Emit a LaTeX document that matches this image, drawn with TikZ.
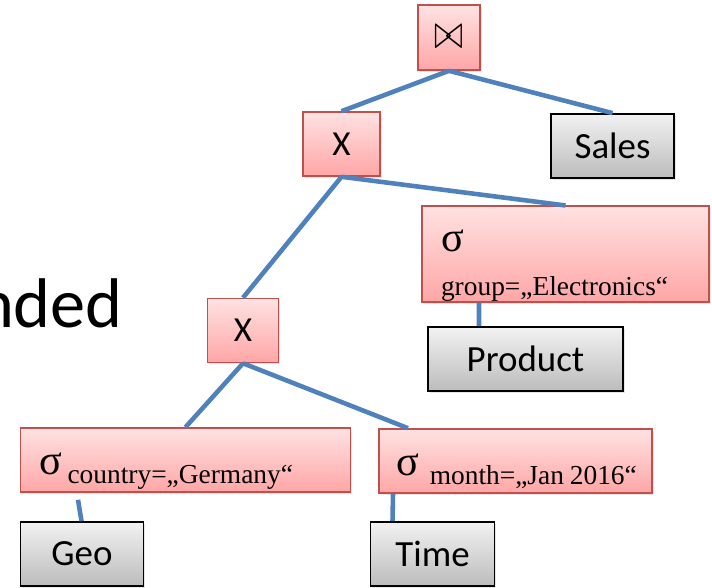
\documentclass[tikz,border=0pt]{standalone}
\usepackage{fontspec}
\setmainfont{Carlito}
\newfontfamily\selfont{Liberation Serif}
\usetikzlibrary{positioning, shadows}

\definecolor{opborder}{RGB}{192,80,77}
\definecolor{optop}{RGB}{255,226,226}
\definecolor{opbottom}{RGB}{255,166,166}
\definecolor{reltop}{RGB}{242,242,242}
\definecolor{relbottom}{RGB}{188,188,188}
\definecolor{linkblue}{RGB}{79,129,189}

\newcommand{\selsigma}{{\fontsize{24}{24}\selectfont σ}}
\newcommand{\selcond}[1]{{\fontsize{15.6}{18}\selectfont #1}}

\begin{document}
\begin{tikzpicture}[node distance = 2cm, on grid,
		op/.style   = {draw=opborder, line width=0.9pt, top color=optop, bottom color=opbottom,
		               drop shadow={opacity=0.2, shadow xshift=1pt, shadow yshift=-1pt},
		               minimum height=1.28cm, font=\fontsize{20}{22}\selectfont},
		rel/.style  = {draw=black, line width=1pt, top color=reltop, bottom color=relbottom,
		               drop shadow={opacity=0.2, shadow xshift=1pt, shadow yshift=-1pt},
		               minimum height=1.28cm, font=\fontsize{21}{24}\selectfont},
		sel/.style  = {op, font=\selfont, align=left, inner xsep=0.38cm, inner ysep=0pt,
		               text height=0.93cm, text depth=0.35cm},
		link/.style = {draw=linkblue, line width=2.6pt}]
				\useasboundingbox (0,0) rectangle (14.24,-11.76);
				\clip (0,0) rectangle (14.24,-11.76);
				
				\node (title)   [anchor=base east, font=\fontsize{40}{44}\selectfont] at (2.58,-6.55) {nded};
				
				\node (join)    [op, minimum width=1.24cm, minimum height=1.3cm] at (8.98,-0.75)
				                {\fontsize{20}{20}\selectfont\scalebox{1}[1.35]{$\bowtie$}};
				\node (xtop)    [op, minimum width=1.54cm, below left = 2.13cm and 2.15cm of join]   {X};
				\node (sales)   [rel, minimum width=2.46cm, below right = 2.17cm and 3.27cm of join] {Sales};
				
				\node (group)   [sel, text width=4.98cm, text height=0.91cm, text depth=1.0cm,
				                 below right = 2.2cm and 4.48cm of xtop]
				                {\selsigma\\[13pt] \selcond{group=„Electronics“}};
				\node (product) [rel, minimum width=3.9cm, below left = 2.1cm and 0.8cm of group]  {Product};
				
				\node (xlow)    [op, minimum width=1.42cm, below left = 3.73cm and 1.97cm of xtop]  {X};
				\node (country) [sel, text width=5.84cm, below left = 2.59cm and 1.15cm of xlow]
				                {\mbox{\selsigma\hspace{3pt}\raisebox{-5pt}{\selcond{country=„Germany“}}}};
				\node (month)   [sel, text width=4.76cm, inner xsep=0.35cm, below right = 2.61cm and 5.45cm of xlow]
				                {\mbox{\selsigma\hspace{6pt}\raisebox{-5pt}{\selcond{month=„Jan 2016“}}}};
				
				\node (geo)     [rel, minimum width=2.46cm, below left = 1.88cm and 2.07cm of country] {Geo};
				\node (time)    [rel, minimum width=2.48cm, below left = 1.86cm and 1.66cm of month]   {Time};
				
				\path[link]
				(join.south)  edge (xtop.north)
				(join.south)  edge (sales.north)
				(xtop.south)  edge (group.north)
				(xtop.south)  edge (xlow.north)
				([xshift=-1.73cm]group.south)   edge ([xshift=-0.93cm]product.north)
				(xlow.south)  edge (country.north)
				(xlow.south)  edge ([xshift=-2.15cm]month.north)
				([xshift=-2.15cm, yshift=-0.14cm]country.south) edge ([xshift=-0.01cm]geo.north)
				([xshift=-2.45cm]month.south)   edge ([xshift=-0.8cm]time.north)
				;
				
			\end{tikzpicture}
\end{document}
